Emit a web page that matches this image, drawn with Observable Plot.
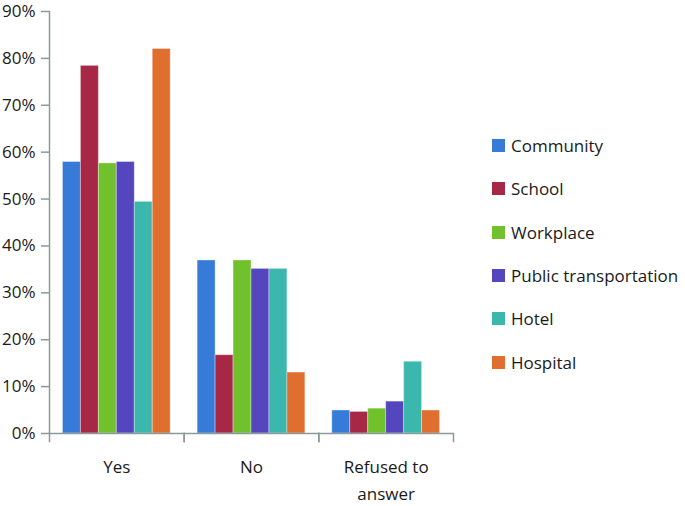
<!DOCTYPE html>
<html>
<head>
<meta charset="utf-8">
<script src="https://cdn.jsdelivr.net/npm/d3@7"></script>
<script src="https://cdn.jsdelivr.net/npm/@observablehq/plot@0.6"></script>
<style>
  html, body { margin: 0; padding: 0; background: #fff; }
  #wrap { position: relative; width: 685px; height: 506px; font-family: "Open Sans", sans-serif; color: #1a1a1a; }
  #legend { position: absolute; left: 492px; top: 124px; }
  .row { height: 43.3px; display: flex; align-items: center; font-size: 17px; white-space: nowrap; }
  .sw { width: 13px; height: 13px; margin-right: 6px; flex: none; }
</style>
</head>
<body>
<div id="wrap"><div id="legend"></div></div>
<script>
const groups = ["Yes", "No", "Refused to answer"];
const groupLabels = ["Yes", "No", "Refused to\nanswer"];
const series = ["Community", "School", "Workplace", "Public transportation", "Hotel", "Hospital"];
const colors = ["#367bd8", "#a62846", "#71c12d", "#5446be", "#3bb7ae", "#e06e2e"];
const yesValues = [57.9, 78.4, 57.6, 57.9, 49.4, 82.0];
const noValues = [36.9, 16.7, 36.9, 35.1, 35.1, 13.0];
const refusedValues = [4.9, 4.6, 5.3, 6.8, 15.3, 4.9];
const yTicks = [0, 10, 20, 30, 40, 50, 60, 70, 80, 90];

const valuesByGroup = [yesValues, noValues, refusedValues];
const data = [];
groups.forEach((g, gi) => series.forEach((s, si) => data.push({group: g, series: s, value: valuesByGroup[gi][si]})));
const labelData = groups.map((g, i) => ({group: g, label: groupLabels[i]}));

const axisColor = "#8a9a9b";

const chart = Plot.plot({
  width: 685,
  height: 506,
  marginLeft: 49,
  marginRight: 232,
  marginTop: 11,
  marginBottom: 73,
  style: {fontFamily: "Open Sans, sans-serif", fontSize: "17px", color: "#1a1a1a", background: "transparent"},
  fx: {domain: groups, padding: 0, round: false, axis: null},
  x: {domain: series, paddingInner: 0, paddingOuter: 0.75, round: false, axis: null},
  y: {domain: [0, 90], axis: null},
  color: {domain: series, range: colors},
  marks: [
    Plot.barY(data, {fx: "group", x: "series", y: "value", fill: "series", stroke: "white", strokeOpacity: 0.35, strokeWidth: 1}),
    Plot.axisY({ticks: yTicks, tickFormat: d => d + "%", tickSize: 8, tickPadding: 6, fontSize: 17, stroke: axisColor, strokeWidth: 1.5, fill: "#1a1a1a", label: null}),
    Plot.frame({anchor: "left", facet: "super", stroke: axisColor, strokeWidth: 1.5}),
    Plot.ruleY([0], {stroke: axisColor, strokeWidth: 1.5}),
    Plot.frame({anchor: "left", insetTop: 422, insetBottom: -8, stroke: axisColor, strokeWidth: 1.5}),
    Plot.frame({anchor: "right", insetTop: 422, insetBottom: -8, stroke: axisColor, strokeWidth: 1.5}),
    Plot.text(labelData, {fx: "group", text: "label", frameAnchor: "bottom", dy: 21, lineAnchor: "top", lineHeight: 1.55, fontSize: 17, fill: "#1a1a1a"})
  ]
});
document.getElementById("wrap").prepend(chart);

const legend = document.getElementById("legend");
series.forEach((s, i) => {
  const row = document.createElement("div");
  row.className = "row";
  const sw = document.createElement("span");
  sw.className = "sw";
  sw.style.background = colors[i];
  const t = document.createElement("span");
  t.textContent = s;
  row.append(sw, t);
  legend.append(row);
});
</script>
</body>
</html>
